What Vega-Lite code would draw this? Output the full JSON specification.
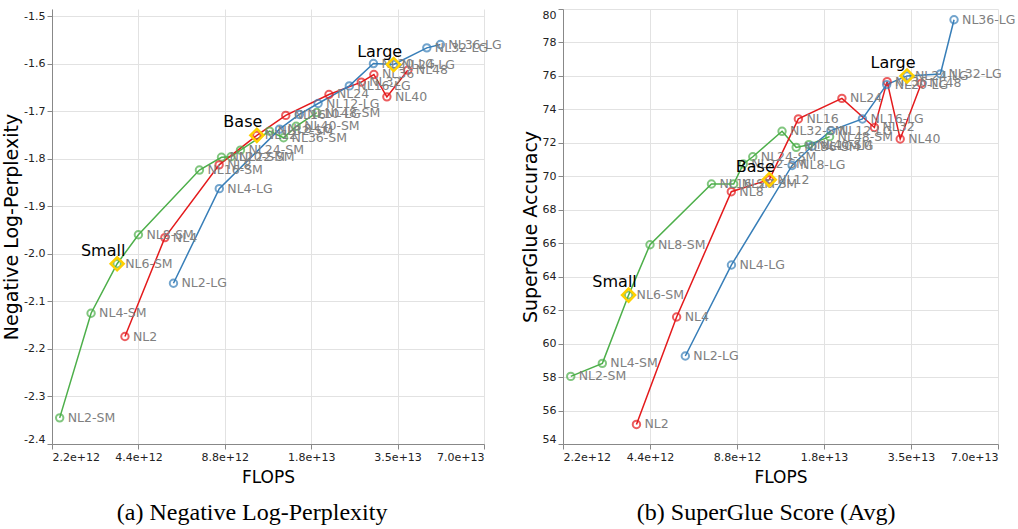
{
  "$schema": "https://vega.github.io/schema/vega-lite/v6.json",
  "padding": {"left": 2, "top": 8, "right": 0, "bottom": 0},
  "config": {
    "font": "DejaVu Sans",
    "view": {"stroke": null},
    "axis": {
      "labelFontSize": 11,
      "labelColor": "#222",
      "titleFontSize": 19,
      "titleFontWeight": "normal",
      "titleColor": "#000",
      "titlePadding": 2,
      "gridColor": "#e2e2e2",
      "domainColor": "#888",
      "tickColor": "#888",
      "labelFlush": true
    },
    "concat": {"spacing": 19}
  },
  "datasets": {
    "models": [
      {"model": "NL2-SM", "s": "SM", "flops": 2.34e12, "nlp": -2.345, "sg": 58.04, "tag": ""},
      {"model": "NL4-SM", "s": "SM", "flops": 3.01e12, "nlp": -2.125, "sg": 58.82, "tag": ""},
      {"model": "NL6-SM", "s": "SM", "flops": 3.71e12, "nlp": -2.021, "sg": 62.9, "tag": "Small"},
      {"model": "NL8-SM", "s": "SM", "flops": 4.4e12, "nlp": -1.96, "sg": 65.91, "tag": ""},
      {"model": "NL16-SM", "s": "SM", "flops": 7.18e12, "nlp": -1.824, "sg": 69.54, "tag": ""},
      {"model": "NL20-SM", "s": "SM", "flops": 8.57e12, "nlp": -1.797, "sg": 69.54, "tag": ""},
      {"model": "NL22-SM", "s": "SM", "flops": 9.25e12, "nlp": -1.796, "sg": 70.74, "tag": ""},
      {"model": "NL24-SM", "s": "SM", "flops": 9.98e12, "nlp": -1.782, "sg": 71.17, "tag": ""},
      {"model": "NL32-SM", "s": "SM", "flops": 12.6e12, "nlp": -1.742, "sg": 72.69, "tag": ""},
      {"model": "NL36-SM", "s": "SM", "flops": 14.1e12, "nlp": -1.756, "sg": 71.73, "tag": ""},
      {"model": "NL40-SM", "s": "SM", "flops": 15.6e12, "nlp": -1.732, "sg": 71.89, "tag": ""},
      {"model": "NL48-SM", "s": "SM", "flops": 18.4e12, "nlp": -1.703, "sg": 72.37, "tag": ""},
      {"model": "NL2", "s": "NL", "flops": 3.95e12, "nlp": -2.174, "sg": 55.17, "tag": ""},
      {"model": "NL4", "s": "NL", "flops": 5.44e12, "nlp": -1.966, "sg": 61.59, "tag": ""},
      {"model": "NL8", "s": "NL", "flops": 8.41e12, "nlp": -1.813, "sg": 69.08, "tag": ""},
      {"model": "NL12", "s": "NL", "flops": 11.38e12, "nlp": -1.751, "sg": 69.8, "tag": "Base"},
      {"model": "NL16", "s": "NL", "flops": 14.35e12, "nlp": -1.709, "sg": 73.43, "tag": ""},
      {"model": "NL24", "s": "NL", "flops": 20.3e12, "nlp": -1.665, "sg": 74.66, "tag": ""},
      {"model": "NL32", "s": "NL", "flops": 26.3e12, "nlp": -1.639, "sg": 72.92, "tag": ""},
      {"model": "NL36", "s": "NL", "flops": 29.1e12, "nlp": -1.623, "sg": 75.66, "tag": ""},
      {"model": "NL40", "s": "NL", "flops": 32.3e12, "nlp": -1.67, "sg": 72.23, "tag": ""},
      {"model": "NL48", "s": "NL", "flops": 38.2e12, "nlp": -1.614, "sg": 75.55, "tag": ""},
      {"model": "NL2-LG", "s": "LG", "flops": 5.83e12, "nlp": -2.062, "sg": 59.26, "tag": ""},
      {"model": "NL4-LG", "s": "LG", "flops": 8.42e12, "nlp": -1.863, "sg": 64.7, "tag": ""},
      {"model": "NL8-LG", "s": "LG", "flops": 13.65e12, "nlp": -1.738, "sg": 70.65, "tag": ""},
      {"model": "NL10-LG", "s": "LG", "flops": 16.0e12, "nlp": -1.707, "sg": 71.8, "tag": ""},
      {"model": "NL12-LG", "s": "LG", "flops": 18.6e12, "nlp": -1.684, "sg": 72.73, "tag": ""},
      {"model": "NL16-LG", "s": "LG", "flops": 23.9e12, "nlp": -1.647, "sg": 73.43, "tag": ""},
      {"model": "NL20-LG", "s": "LG", "flops": 29.0e12, "nlp": -1.6, "sg": 75.48, "tag": ""},
      {"model": "NL24-LG", "s": "LG", "flops": 34.1e12, "nlp": -1.602, "sg": 76.0, "tag": "Large"},
      {"model": "NL32-LG", "s": "LG", "flops": 44.5e12, "nlp": -1.567, "sg": 76.12, "tag": ""},
      {"model": "NL36-LG", "s": "LG", "flops": 49.6e12, "nlp": -1.56, "sg": 79.36, "tag": ""}
    ]
  },
  "hconcat": [
    {
      "title": {"text": "(a) Negative Log-Perplexity", "orient": "bottom", "anchor": "middle", "frame": "bounds", "font": "Liberation Serif", "fontSize": 24, "fontWeight": "normal", "offset": 16, "dx": 0, "color": "#000"},
      "width": 432,
      "height": 435,
      "data": {"name": "models"},
      "encoding": {
        "x": {"field": "flops", "type": "quantitative",
          "scale": {"type": "log", "domain": [2.2e12, 7.04e13], "nice": false},
          "axis": {"values": [2.2e12, 4.4e12, 8.8e12, 1.76e13, 3.52e13, 7.04e13], "format": ".1e", "title": "FLOPS", "titleFontSize": 17, "titlePadding": 7}},
        "y": {"field": "nlp", "type": "quantitative",
          "scale": {"domain": [-2.4, -1.48528], "nice": false, "zero": false},
          "axis": {"values": [-2.4, -2.3, -2.2, -2.1, -2.0, -1.9, -1.8, -1.7, -1.6, -1.5], "format": ".1f", "labelExpr": "replace(datum.label, '\u2212', '-')", "title": "Negative Log-Perplexity"}}
      },
      "layer": [
        {"mark": {"type": "line", "strokeWidth": 1.5},
         "encoding": {"color": {"field": "s", "type": "nominal", "scale": {"domain": ["SM", "NL", "LG"], "range": ["#4daf4a", "#e41a1c", "#377eb8"]}, "legend": null},
                      "order": {"field": "flops", "type": "quantitative"}}},
        {"mark": {"type": "point", "shape": "circle", "filled": false, "size": 55, "strokeWidth": 2, "opacity": 0.7},
         "encoding": {"color": {"field": "s", "type": "nominal", "scale": {"domain": ["SM", "NL", "LG"], "range": ["#4daf4a", "#e41a1c", "#377eb8"]}, "legend": null}}},
        {"mark": {"type": "text", "align": "left", "baseline": "middle", "dx": 8, "fontSize": 12.5, "color": "#808080"},
         "encoding": {"text": {"field": "model"}}},
        {"transform": [{"filter": "datum.tag != ''"}],
         "mark": {"type": "point", "shape": "diamond", "filled": false, "size": 170, "strokeWidth": 2.5, "color": "#ffd000", "opacity": 1}},
        {"transform": [{"filter": "datum.tag != ''"}],
         "mark": {"type": "text", "align": "center", "baseline": "middle", "dx": -14, "dy": -13, "fontSize": 16, "color": "#000"},
         "encoding": {"text": {"field": "tag"}}}
      ]
    },
    {
      "title": {"text": "(b) SuperGlue Score (Avg)", "orient": "bottom", "anchor": "middle", "frame": "bounds", "font": "Liberation Serif", "fontSize": 24, "fontWeight": "normal", "offset": 16, "dx": -2, "color": "#000"},
      "width": 435,
      "height": 435,
      "data": {"name": "models"},
      "encoding": {
        "x": {"field": "flops", "type": "quantitative",
          "scale": {"type": "log", "domain": [2.2e12, 7.04e13], "nice": false},
          "axis": {"values": [2.2e12, 4.4e12, 8.8e12, 1.76e13, 3.52e13, 7.04e13], "format": ".1e", "title": "FLOPS", "titleFontSize": 17, "titlePadding": 7}},
        "y": {"field": "sg", "type": "quantitative",
          "scale": {"domain": [54, 80], "nice": false, "zero": false},
          "axis": {"values": [54, 56, 58, 60, 62, 64, 66, 68, 70, 72, 74, 76, 78, 80], "title": "SuperGlue Accuracy"}}
      },
      "layer": [
        {"mark": {"type": "line", "strokeWidth": 1.5},
         "encoding": {"color": {"field": "s", "type": "nominal", "scale": {"domain": ["SM", "NL", "LG"], "range": ["#4daf4a", "#e41a1c", "#377eb8"]}, "legend": null},
                      "order": {"field": "flops", "type": "quantitative"}}},
        {"mark": {"type": "point", "shape": "circle", "filled": false, "size": 55, "strokeWidth": 2, "opacity": 0.7},
         "encoding": {"color": {"field": "s", "type": "nominal", "scale": {"domain": ["SM", "NL", "LG"], "range": ["#4daf4a", "#e41a1c", "#377eb8"]}, "legend": null}}},
        {"mark": {"type": "text", "align": "left", "baseline": "middle", "dx": 8, "fontSize": 12.5, "color": "#808080"},
         "encoding": {"text": {"field": "model"}}},
        {"transform": [{"filter": "datum.tag != ''"}],
         "mark": {"type": "point", "shape": "diamond", "filled": false, "size": 170, "strokeWidth": 2.5, "color": "#ffd000", "opacity": 1}},
        {"transform": [{"filter": "datum.tag != ''"}],
         "mark": {"type": "text", "align": "center", "baseline": "middle", "dx": -14, "dy": -13, "fontSize": 16, "color": "#000"},
         "encoding": {"text": {"field": "tag"}}}
      ]
    }
  ]
}
